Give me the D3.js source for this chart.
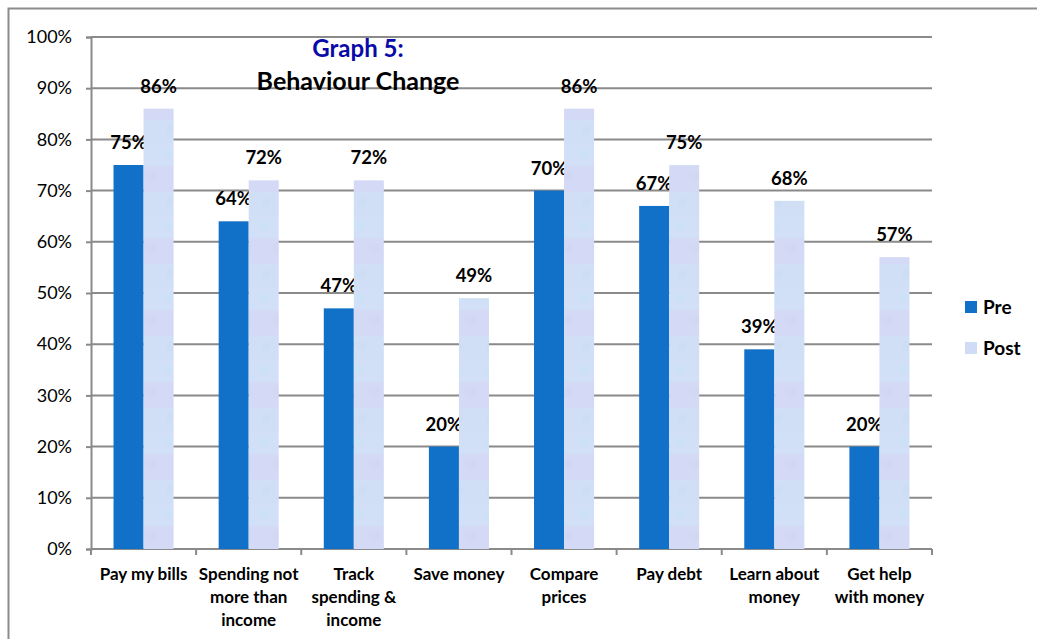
<!DOCTYPE html>
<html>
<head>
<meta charset="utf-8">
<script src="https://cdn.jsdelivr.net/npm/d3@7"></script>
<style>
  body { margin: 0; background: #fff; }
  svg { display: block; font-family: Lato, "Open Sans", sans-serif; }
</style>
</head>
<body>
<svg id="chart"></svg>
<script>
// data
var categories = [
  ["Pay my bills"],
  ["Spending not", "more than", "income"],
  ["Track", "spending &", "income"],
  ["Save money"],
  ["Compare", "prices"],
  ["Pay debt"],
  ["Learn about", "money"],
  ["Get help", "with money"]
];
var pre = [75, 64, 47, 20, 70, 67, 39, 20];
var post = [86, 72, 72, 49, 86, 75, 68, 57];
var seriesNames = ["Pre", "Post"];
var yTicks = [0, 10, 20, 30, 40, 50, 60, 70, 80, 90, 100];

var width = 1037, height = 639;
var margin = {left: 91, right: 105, top: 37, bottom: 90};

const svg = d3.select("#chart")
    .attr("width", width)
    .attr("height", height);

// soft textured fill for the Post bars
var defs = svg.append("defs");
var pat = defs.append("pattern")
    .attr("id", "tex")
    .attr("patternUnits", "userSpaceOnUse")
    .attr("width", 32).attr("height", 72);
pat.append("rect").attr("width", 32).attr("height", 72).attr("fill", "#d2ddf6");
[[0, 0, 32, 22, "#d1e0f7"], [0, 22, 32, 26, "#d4daf5"], [0, 48, 32, 24, "#d0def6"]].forEach(function(r){
    pat.append("rect").attr("x", r[0]).attr("y", r[1]).attr("width", r[2]).attr("height", r[3]).attr("fill", r[4]);
});
[[8, 10, 5, "#c8e2f5"], [22, 32, 6, "#cfd4f2"], [10, 58, 5, "#cadcf2"]].forEach(function(c){
    pat.append("circle").attr("cx", c[0]).attr("cy", c[1]).attr("r", c[2]).attr("fill", c[3]).attr("opacity", 0.5);
});

// outer frame
svg.append("path")
    .attr("d", "M8.5,639 V8.5 H1037")
    .attr("fill", "none")
    .attr("stroke", "#8c8c8c")
    .attr("stroke-width", 2);

const x = d3.scaleBand()
    .domain(d3.range(categories.length))
    .range([margin.left, width - margin.right]);

const y = d3.scaleLinear()
    .domain([0, 100])
    .range([height - margin.bottom, margin.top]);

const barW = x.bandwidth() / 3.5;

// grid lines
svg.append("g")
    .selectAll("line")
    .data(yTicks.slice(1))
    .enter().append("line")
    .attr("x1", margin.left)
    .attr("x2", width - margin.right)
    .attr("y1", d => y(d))
    .attr("y2", d => y(d))
    .attr("stroke", "#8a8a8a")
    .attr("stroke-width", 2);

// y axis
const yAxis = svg.append("g")
    .attr("transform", "translate(" + margin.left + ",0)")
    .call(d3.axisLeft(y).tickValues(yTicks).tickFormat(d => d + "%").tickSize(5).tickPadding(14));
yAxis.select(".domain").attr("stroke", "#8a8a8a").attr("stroke-width", 2);
yAxis.selectAll(".tick line").attr("stroke", "#8a8a8a").attr("stroke-width", 2);
yAxis.selectAll("text").attr("font-size", 18).attr("fill", "#000")
    .attr("font-family", "Lato, sans-serif");

// x axis
const xAxis = svg.append("g")
    .attr("transform", "translate(0," + y(0) + ")");
xAxis.append("line")
    .attr("x1", margin.left).attr("x2", width - margin.right)
    .attr("stroke", "#8a8a8a").attr("stroke-width", 2);
xAxis.selectAll("line.tk")
    .data(d3.range(categories.length + 1))
    .enter().append("line")
    .attr("class", "tk")
    .attr("x1", d => d < categories.length ? x(d) : x(d - 1) + x.bandwidth())
    .attr("x2", d => d < categories.length ? x(d) : x(d - 1) + x.bandwidth())
    .attr("y1", 0).attr("y2", 6)
    .attr("stroke", "#8a8a8a").attr("stroke-width", 2);

const catLabels = svg.append("g")
    .selectAll("text")
    .data(categories)
    .enter().append("text")
    .attr("x", (d, i) => x(i) + x.bandwidth() / 2)
    .attr("y", y(0) + 31)
    .attr("text-anchor", "middle")
    .attr("font-size", 17)
    .attr("font-weight", "bold");
catLabels.selectAll("tspan")
    .data(d => d)
    .enter().append("tspan")
    .attr("x", function(){ return this.parentNode.getAttribute("x"); })
    .attr("dy", (d, i) => i ? 23 : 0)
    .text(d => d);

// bars
var series = [
  {name: "Pre", values: pre, fill: "#1170c8", off: -1},
  {name: "Post", values: post, fill: "url(#tex)", off: 0}
];

series.forEach(function(s){
    const g = svg.append("g");
    g.selectAll("rect")
        .data(s.values)
        .enter().append("rect")
        .attr("x", (d, i) => x(i) + x.bandwidth() / 2 + s.off * barW)
        .attr("y", d => y(d))
        .attr("width", barW)
        .attr("height", d => y(0) - y(d))
        .attr("fill", s.fill);
    g.selectAll("text")
        .data(s.values)
        .enter().append("text")
        .attr("x", (d, i) => x(i) + x.bandwidth() / 2 + s.off * barW + barW / 2)
        .attr("y", d => y(d) - 16)
        .attr("text-anchor", "middle")
        .attr("font-size", 18.5)
        .attr("font-weight", "bold")
        .text(d => d + "%");
});

// title
svg.append("text")
    .attr("x", 358).attr("y", 57)
    .attr("text-anchor", "middle")
    .attr("font-size", 24).attr("font-weight", "bold")
    .attr("fill", "#0a0aa8")
    .text("Graph 5:");
svg.append("text")
    .attr("x", 358).attr("y", 90)
    .attr("text-anchor", "middle")
    .attr("font-size", 25).attr("font-weight", "bold")
    .attr("fill", "#000")
    .text("Behaviour Change");

// legend
const legend = svg.append("g")
    .selectAll("g")
    .data(series)
    .enter().append("g")
    .attr("transform", (d, i) => "translate(965," + (301 + i * 41) + ")");
legend.append("rect")
    .attr("width", 12).attr("height", 12)
    .attr("fill", d => d.name === "Pre" ? d.fill : "#d0dcf6");
legend.append("text")
    .attr("x", 18).attr("y", 13)
    .attr("font-size", 19).attr("font-weight", "bold")
    .text(d => d.name);
</script>
</body>
</html>
